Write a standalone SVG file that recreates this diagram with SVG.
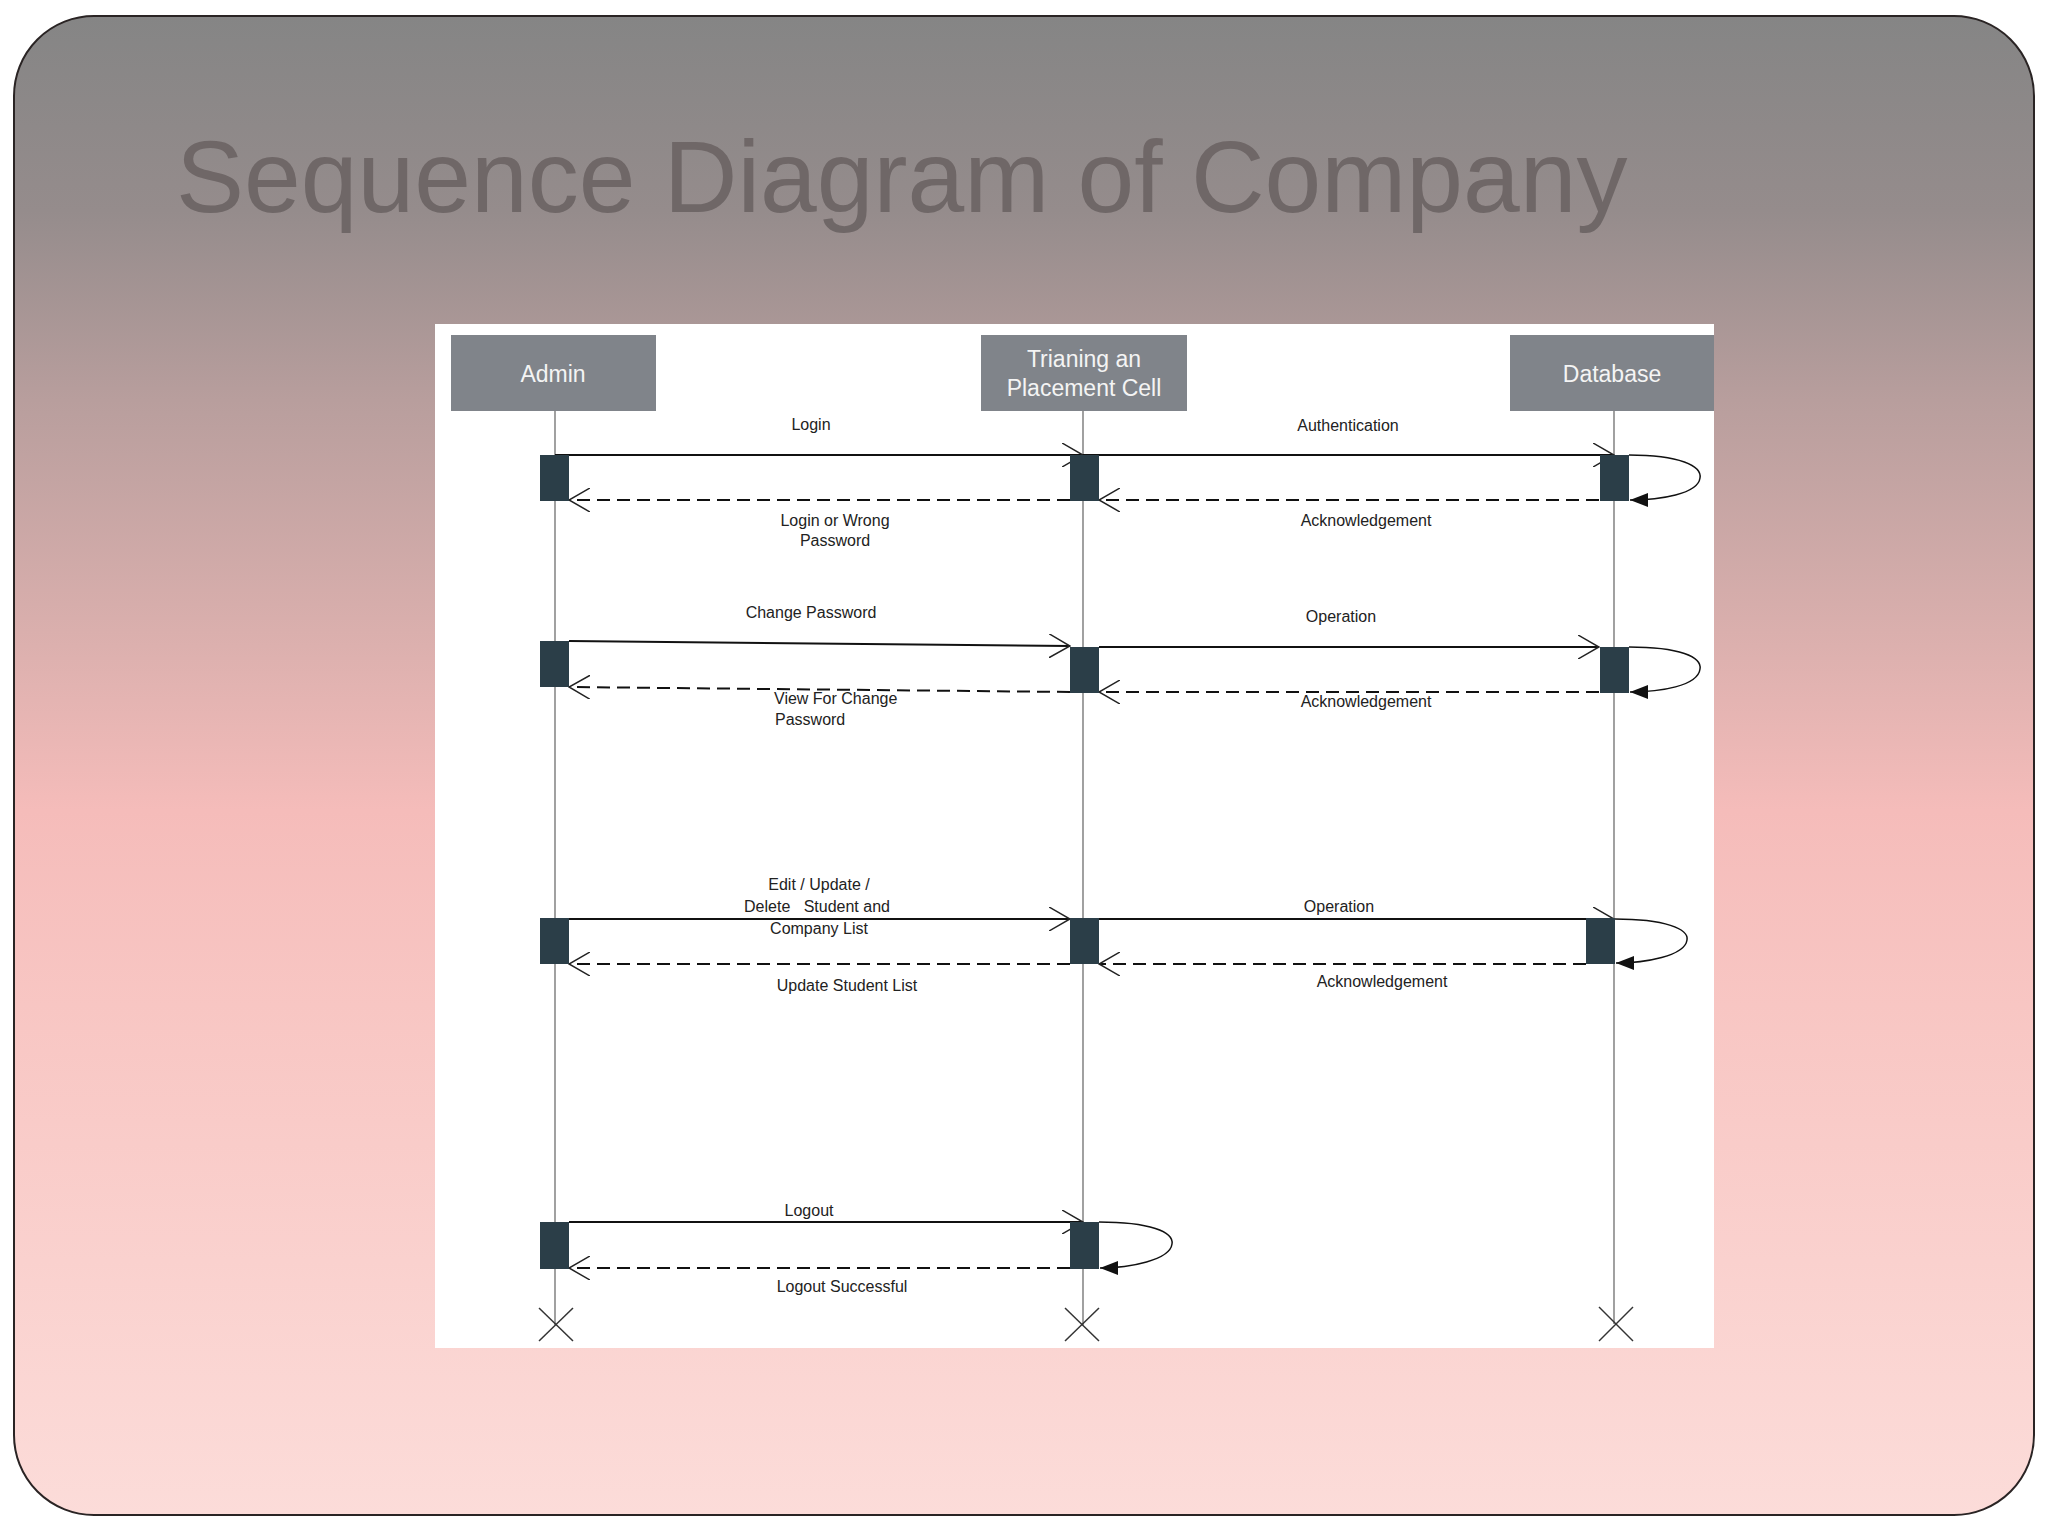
<svg xmlns="http://www.w3.org/2000/svg" width="2048" height="1536" viewBox="0 0 2048 1536">
<defs>
<linearGradient id="bg" x1="0" y1="16" x2="0" y2="1515" gradientUnits="userSpaceOnUse">
<stop offset="0" stop-color="#858585"/>
<stop offset="0.13" stop-color="#958c8c"/>
<stop offset="0.256" stop-color="#b89e9d"/>
<stop offset="0.42" stop-color="#dcb0ae"/>
<stop offset="0.53" stop-color="#f5bcba"/>
<stop offset="0.66" stop-color="#f8c6c3"/>
<stop offset="1" stop-color="#fcdcd9"/>
</linearGradient>
<marker id="open" viewBox="0 0 22 24" refX="21" refY="12" markerWidth="22" markerHeight="24" markerUnits="userSpaceOnUse" orient="auto">
<path d="M0,0 L21,12 L0,24" fill="none" stroke="#222" stroke-width="1.5"/>
</marker>
<marker id="filled" viewBox="0 0 18 14" refX="18" refY="7" markerWidth="18" markerHeight="14" markerUnits="userSpaceOnUse" orient="auto">
<path d="M0,0 L18,7 L0,14 z" fill="#111"/>
</marker>
</defs>
<style>
.head{fill:#80848a}
.htxt{font-family:"Liberation Sans",Arial,sans-serif;font-size:23px;fill:#f4f4f4;text-anchor:middle}
.life{stroke:#6e6e6e;stroke-width:1.3;fill:none}
.bar{fill:#2b3e48}
.msg{stroke:#111;stroke-width:2;fill:none;marker-end:url(#open)}
.ret{stroke:#111;stroke-width:2;fill:none;stroke-dasharray:13 7;marker-end:url(#open)}
.loop{stroke:#111;stroke-width:1.5;fill:none;marker-end:url(#filled)}
.lbl{font-family:"Liberation Sans",Arial,sans-serif;font-size:16px;fill:#222;text-anchor:middle}
.x{stroke:#333;stroke-width:1.5}
</style>
<rect width="2048" height="1536" fill="#ffffff"/>
<rect x="14" y="16" width="2020" height="1499" rx="80" ry="80" fill="url(#bg)" stroke="#2a2424" stroke-width="2"/>
<text x="176" y="212" font-family="Liberation Sans, Arial, sans-serif" font-size="102" fill="#6f6767">Sequence Diagram of Company</text>
<rect x="435" y="324" width="1279" height="1024" fill="#ffffff"/>

<g id="admin">
<rect class="head" x="451" y="335" width="205" height="76"/>
<text class="htxt" x="553" y="382">Admin</text>
<line class="life" x1="555" y1="411" x2="555" y2="1325"/>
<line class="x" x1="539" y1="1308" x2="573" y2="1341"/>
<line class="x" x1="573" y1="1308" x2="539" y2="1341"/>
</g>
<g id="training">
<rect class="head" x="981" y="335" width="206" height="76"/>
<text class="htxt" x="1084" y="367">Trianing an</text>
<text class="htxt" x="1084" y="396">Placement Cell</text>
<line class="life" x1="1083" y1="411" x2="1083" y2="1325"/>
<line class="x" x1="1065" y1="1308" x2="1099" y2="1341"/>
<line class="x" x1="1099" y1="1308" x2="1065" y2="1341"/>
</g>
<g id="database">
<rect class="head" x="1510" y="335" width="204" height="76"/>
<text class="htxt" x="1612" y="382">Database</text>
<line class="life" x1="1614" y1="411" x2="1614" y2="1324"/>
<line class="x" x1="1599" y1="1307" x2="1633" y2="1341"/>
<line class="x" x1="1633" y1="1307" x2="1599" y2="1341"/>
</g>

<g id="connectors">
<line class="msg" x1="555" y1="455" x2="1083" y2="455"/>
<line class="ret" x1="1070" y1="500" x2="569" y2="500"/>
<line class="msg" x1="1083" y1="455" x2="1614" y2="455"/>
<path class="loop" d="M1629,455 C1680,455 1702,466 1700,478 C1698,494 1660,500 1630,500"/>
<line class="ret" x1="1599" y1="500" x2="1099" y2="500"/>

<line class="msg" x1="569" y1="641" x2="1070" y2="646"/>
<line class="ret" x1="1070" y1="692" x2="569" y2="687"/>
<line class="msg" x1="1099" y1="647" x2="1599" y2="647"/>
<path class="loop" d="M1629,647 C1680,647 1702,657 1700,669 C1698,686 1660,692 1630,692"/>
<line class="ret" x1="1599" y1="692" x2="1099" y2="692"/>

<line class="msg" x1="569" y1="919" x2="1070" y2="919"/>
<line class="ret" x1="1070" y1="964" x2="569" y2="964"/>
<line class="msg" x1="1099" y1="919" x2="1614" y2="919"/>
<path class="loop" d="M1615,919 C1665,919 1689,929 1687,940 C1685,956 1645,963 1616,963"/>
<line class="ret" x1="1586" y1="964" x2="1099" y2="964"/>

<line class="msg" x1="569" y1="1222" x2="1083" y2="1222"/>
<path class="loop" d="M1099,1222 C1150,1222 1174,1232 1172,1244 C1170,1260 1130,1268 1100,1268"/>
<line class="ret" x1="1070" y1="1268" x2="569" y2="1268"/>
</g>

<g id="activations">
<rect class="bar" x="540" y="455" width="29" height="46"/>
<rect class="bar" x="1070" y="455" width="29" height="46"/>
<rect class="bar" x="1600" y="455" width="29" height="46"/>
<rect class="bar" x="540" y="641" width="29" height="46"/>
<rect class="bar" x="1070" y="647" width="29" height="46"/>
<rect class="bar" x="1600" y="647" width="29" height="46"/>
<rect class="bar" x="540" y="918" width="29" height="46"/>
<rect class="bar" x="1070" y="918" width="29" height="46"/>
<rect class="bar" x="1586" y="918" width="29" height="46"/>
<rect class="bar" x="540" y="1222" width="29" height="47"/>
<rect class="bar" x="1070" y="1222" width="29" height="47"/>
</g>

<g id="labels">
<text class="lbl" x="811" y="430">Login</text>
<text class="lbl" x="835" y="526">Login or Wrong</text>
<text class="lbl" x="835" y="546">Password</text>
<text class="lbl" x="1348" y="431">Authentication</text>
<text class="lbl" x="1366" y="526">Acknowledgement</text>
<text class="lbl" x="811" y="618">Change Password</text>
<text class="lbl" x="774" y="704" text-anchor="start" style="text-anchor:start">View For Change</text>
<text class="lbl" x="775" y="725" style="text-anchor:start">Password</text>
<text class="lbl" x="1341" y="622">Operation</text>
<text class="lbl" x="1366" y="707">Acknowledgement</text>
<text class="lbl" x="819" y="890">Edit / Update /</text>
<text class="lbl" x="817" y="912" style="white-space:pre">Delete   Student and</text>
<text class="lbl" x="819" y="934">Company List</text>
<text class="lbl" x="847" y="991">Update Student List</text>
<text class="lbl" x="1339" y="912">Operation</text>
<text class="lbl" x="1382" y="987">Acknowledgement</text>
<text class="lbl" x="809" y="1216">Logout</text>
<text class="lbl" x="842" y="1292">Logout Successful</text>
</g>
</svg>
